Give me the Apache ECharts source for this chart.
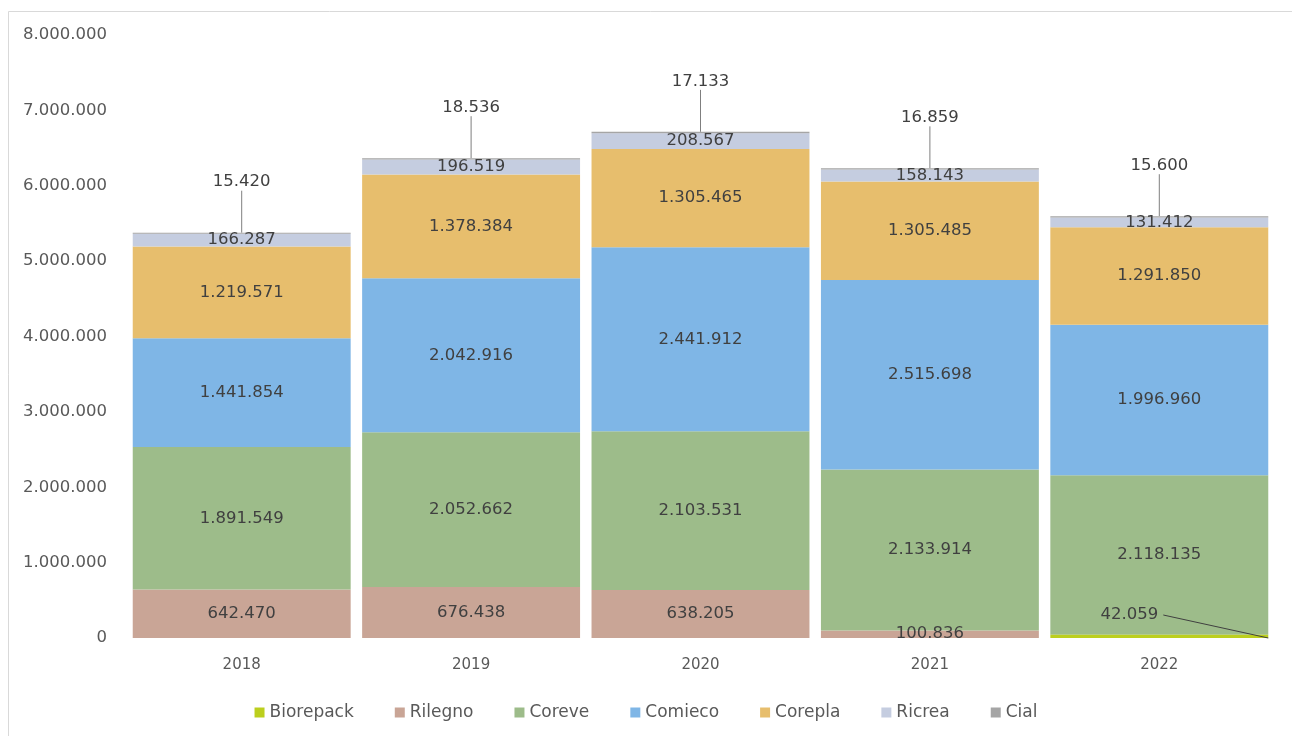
<!DOCTYPE html>
<html>
<head>
<meta charset="utf-8">
<script src="https://cdn.jsdelivr.net/npm/echarts@6/dist/echarts.min.js"></script>
<style>html,body{margin:0;padding:0;background:#fff}#c{width:1292px;height:736px}</style>
</head>
<body>
<div id="c"></div>
<script>
const years = ['2018', '2019', '2020', '2021', '2022'];
const biorepack = [null, null, null, null, 42059];
const rilegno = [642470, 676438, 638205, 100836, null];
const coreve = [1891549, 2052662, 2103531, 2133914, 2118135];
const comieco = [1441854, 2042916, 2441912, 2515698, 1996960];
const corepla = [1219571, 1378384, 1305465, 1305485, 1291850];
const ricrea = [166287, 196519, 208567, 158143, 131412];
const cial = [15420, 18536, 17133, 16859, 15600];

const FONT = 'DejaVu Sans';
function fmt(v) {
  if (v === null || v === undefined || v === 0) return '';
  return String(Math.round(v)).replace(/\B(?=(\d{3})+(?!\d))/g, '.');
}
const baseLabel = {
  show: true, position: 'inside', color: '#404040', fontFamily: FONT, fontSize: 16.5,
  formatter: p => fmt(p.value)
};
function mk(name, data, color, extra) {
  return Object.assign({
    name: name, type: 'bar', stack: 'total', data: data, barCategoryGap: '5%',
    itemStyle: { color: color }, label: Object.assign({}, baseLabel)
  }, extra || {});
}
// leader line for the Biorepack label (from label to bottom-right corner of its bar)
const bioLeader = biorepack.map((v, i) => (v ? [i, v] : null)).filter(d => d);

const chart = echarts.init(document.getElementById('c'));
chart.setOption({
  backgroundColor: '#fff',
  animation: false,
  graphic: [{ type: 'rect', shape: { x: 8.5, y: 11.5, width: 1300, height: 740 }, style: { fill: 'none', stroke: '#d9d9d9', lineWidth: 1 }, silent: true }],
  grid: { left: 127, right: 18, top: 35, bottom: 98, containLabel: false },
  legend: {
    bottom: 10, left: 'center', itemWidth: 10, itemHeight: 10, itemGap: 41, icon: 'rect',
    textStyle: { color: '#595959', fontFamily: FONT, fontSize: 17 },
    data: ['Biorepack', 'Rilegno', 'Coreve', 'Comieco', 'Corepla', 'Ricrea', 'Cial']
  },
  xAxis: {
    type: 'category', data: years,
    axisLine: { show: false }, axisTick: { show: false },
    axisLabel: { color: '#595959', fontFamily: FONT, fontSize: 15, margin: 20 }
  },
  yAxis: {
    type: 'value', min: 0, max: 8000000, interval: 1000000,
    splitLine: { show: false }, axisLine: { show: false }, axisTick: { show: false },
    axisLabel: { color: '#595959', fontFamily: FONT, fontSize: 16.5, margin: 20, formatter: v => v === 0 ? '0' : fmt(v) }
  },
  series: [
    mk('Biorepack', biorepack, '#bccf1e', {
      z: 5,
      label: Object.assign({}, baseLabel, { position: 'top', distance: 0 }),
      labelLayout: { dx: -30, dy: -12 }
    }),
    mk('Rilegno', rilegno, '#c9a596'),
    mk('Coreve', coreve, '#9dbc8a'),
    mk('Comieco', comieco, '#7fb6e6'),
    mk('Corepla', corepla, '#e7be6d'),
    mk('Ricrea', ricrea, '#c5cde0'),
    mk('Cial', cial, '#a5a5a5', {
      label: Object.assign({}, baseLabel, { position: 'top', distance: 0 }),
      labelLayout: { dy: -42 },
      labelLine: { show: true, lineStyle: { color: '#7f7f7f', width: 1 } }
    }),
    {
      name: 'bioLeader', type: 'custom', z: 6, silent: true,
      data: bioLeader, encode: { x: 0, y: 1 },
      renderItem: function (params, api) {
        const base = api.coord([api.value(0), 0]);
        const bw = api.size([1, 0])[0] * 0.95;
        return {
          type: 'line',
          shape: { x1: base[0] + 4, y1: base[1] - 23, x2: base[0] + bw / 2, y2: base[1] },
          style: { stroke: '#404040', lineWidth: 1 }
        };
      }
    }
  ]
});
</script>
</body>
</html>
